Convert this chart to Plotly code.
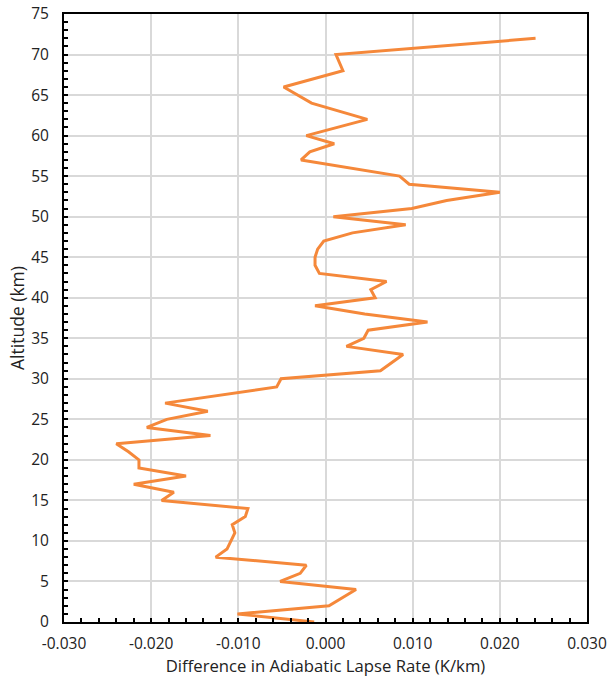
import plotly.graph_objects as go

altitude = [0, 1, 2, 4, 5, 6, 7, 8, 9, 11, 12, 13, 14, 15, 16, 17, 18, 19, 20, 21, 22,
            23, 24, 25, 26, 27, 29, 30, 31, 33, 34, 35, 36, 37, 38, 39, 40, 41, 42, 43,
            44, 45, 46, 47, 48, 49, 50, 51, 52, 53, 54, 55, 57, 58, 59, 60, 62, 64, 66,
            68, 70, 72]
diff = [-0.0013, -0.0101, 0.0004, 0.0035, -0.0052, -0.0029, -0.0022, -0.0126, -0.0113,
        -0.0104, -0.0107, -0.0092, -0.0089, -0.0188, -0.0174, -0.0220, -0.0160, -0.0214,
        -0.0214, -0.0226, -0.0240, -0.0132, -0.0205, -0.0182, -0.0135, -0.0184, -0.0056,
        -0.0051, 0.0063, 0.0089, 0.0024, 0.0044, 0.0049, 0.0117, 0.0045, -0.0012, 0.0057,
        0.0052, 0.0070, -0.0007, -0.0012, -0.0012, -0.0009, -0.0002, 0.0031, 0.0092,
        0.0009, 0.0099, 0.0139, 0.0200, 0.0096, 0.0085, -0.0028, -0.0018, 0.0010, -0.0022,
        0.0048, -0.0016, -0.0048, 0.0020, 0.0012, 0.0241]

x_ticks = [-0.03, -0.02, -0.01, 0.0, 0.01, 0.02, 0.03]
x_labels = ["-0.030", "-0.020", "-0.010", "0.000", "0.010", "0.020", "0.030"]

FAM = "Open Sans, Noto Sans, sans-serif"
tick_font = dict(family=FAM, size=15.5, color="#222222")
xtitle_font = dict(family=FAM, size=16.7, color="#222222")
ytitle_font = dict(family=FAM, size=17.5, color="#222222")

fig = go.Figure()
fig.add_trace(go.Scatter(x=diff, y=altitude, mode="lines",
                         line=dict(color="#F5883A", width=3), showlegend=False))

fig.update_layout(
    width=612, height=678,
    margin=dict(l=64, r=25, t=14, b=56, autoexpand=False),
    paper_bgcolor="white", plot_bgcolor="white",
    font=tick_font,
    xaxis=dict(
        range=[-0.03, 0.03], tickvals=x_ticks, ticktext=x_labels,
        tickfont=tick_font, automargin=False, ticklabelstandoff=6,
        ticklabeloverflow="allow",
        showgrid=True, gridcolor="#D9D9D9", gridwidth=1.5,
        showline=True, linecolor="black", linewidth=2, mirror=True,
        ticks="inside", ticklen=4, tickwidth=2, tickcolor="black",
        minor=dict(dtick=0.002, ticks="inside", ticklen=4, tickwidth=2,
                   tickcolor="black", showgrid=False),
        zeroline=False,
        title=dict(text="Difference in Adiabatic Lapse Rate (K/km)",
                   font=xtitle_font, standoff=4),
    ),
    yaxis=dict(
        range=[0, 75], dtick=5,
        tickfont=tick_font, automargin=False, ticklabelstandoff=10,
        ticklabeloverflow="allow",
        showgrid=True, gridcolor="#D9D9D9", gridwidth=1.5,
        showline=True, linecolor="black", linewidth=2, mirror=True,
        ticks="inside", ticklen=4, tickwidth=2, tickcolor="black",
        minor=dict(dtick=1, ticks="inside", ticklen=4, tickwidth=2,
                   tickcolor="black", showgrid=False),
        zeroline=False,
        title=dict(text="Altitude (km)", font=ytitle_font, standoff=2),
    ),
)

# remove the default 8px page margin so the figure fills the window exactly
fig.write_html("out.html", config={"displayModeBar": False},
               post_script="document.body.style.margin='0px';")
